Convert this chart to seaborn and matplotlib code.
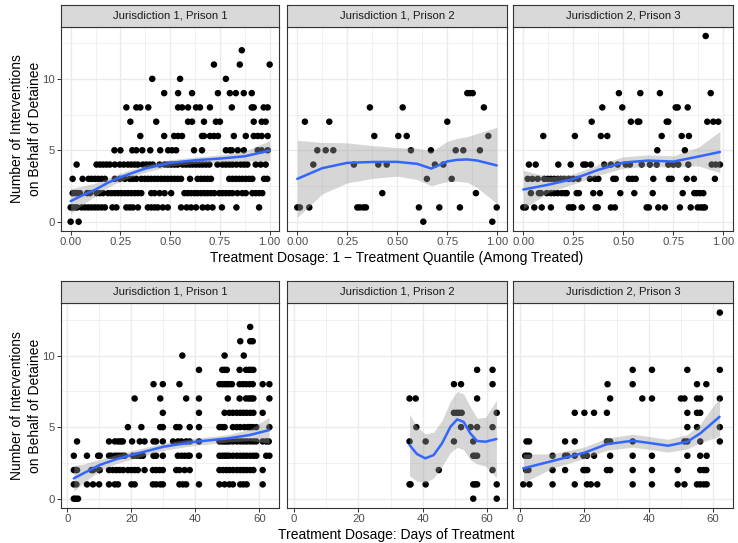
import numpy as np
import pandas as pd
import matplotlib
matplotlib.use("Agg")
import matplotlib.pyplot as plt
import seaborn as sns

# ---------------- data ----------------
STRIPS = ["Jurisdiction 1, Prison 1", "Jurisdiction 1, Prison 2", "Jurisdiction 2, Prison 3"]
XLAB_TOP = "Treatment Dosage: 1 \u2212 Treatment Quantile (Among Treated)"
XLAB_BOT = "Treatment Dosage: Days of Treatment"
YLAB = "Number of Interventions\non Behalf of Detainee"

# Top row: count of interventions -> quantile dosage values
Q_J1P1 = {
    12: [0.86],
    11: [0.72, 0.85, 1.00],
    10: [0.41, 0.55, 0.78],
    9: [0.47, 0.54, 0.61, 0.74, 0.80, 0.83, 0.87, 0.91],
    8: [0.28, 0.33, 0.35, 0.39, 0.54, 0.56, 0.59, 0.63, 0.65, 0.70, 0.81, 0.91, 0.92, 0.97, 0.99],
    7: [0.30, 0.43, 0.59, 0.61, 0.67, 0.73, 0.75, 0.92, 0.96, 0.98],
    6: [0.35, 0.47, 0.52, 0.54, 0.56, 0.66, 0.67, 0.70, 0.72, 0.74, 0.82, 0.88, 0.92, 0.94, 0.96, 0.99],
    5: [0.22, 0.25, 0.31, 0.33, 0.36, 0.40, 0.45, 0.49, 0.51, 0.53, 0.62, 0.66, 0.78, 0.80, 0.81,
        0.84, 0.87, 0.94, 0.96, 0.99],
    4: [0.03, 0.13, 0.147, 0.163, 0.18, 0.197, 0.222, 0.247, 0.267, 0.288, 0.305, 0.322, 0.338,
        0.363, 0.38, 0.397, 0.413, 0.447, 0.472, 0.488, 0.505, 0.522, 0.538, 0.563, 0.58, 0.597,
        0.613, 0.63, 0.647, 0.663, 0.68, 0.697, 0.738, 0.763, 0.78, 0.797, 0.813, 0.833, 0.855,
        0.872, 0.888, 0.93, 0.955, 0.98],
    3: [0.01, 0.06, 0.09, 0.105, 0.122, 0.138, 0.155, 0.172, 0.222, 0.247, 0.272, 0.297, 0.313,
        0.33, 0.355, 0.372, 0.388, 0.405, 0.422, 0.438, 0.455, 0.472, 0.488, 0.505, 0.522, 0.538,
        0.555, 0.60, 0.638, 0.655, 0.672, 0.688, 0.705, 0.797, 0.813, 0.83, 0.847, 0.863, 0.88,
        0.897, 0.913, 0.972, 0.988],
    2: [0.01, 0.022, 0.033, 0.047, 0.083, 0.097, 0.13, 0.147, 0.163, 0.188, 0.205, 0.222, 0.238,
        0.255, 0.272, 0.288, 0.305, 0.322, 0.338, 0.355, 0.405, 0.422, 0.447, 0.472, 0.505, 0.572,
        0.588, 0.605, 0.622, 0.638, 0.655, 0.672, 0.688, 0.705, 0.722, 0.747, 0.763, 0.78, 0.797,
        0.813, 0.838, 0.863, 0.88, 0.913, 0.93, 0.947, 0.963],
    1: [0.00, 0.01, 0.022, 0.033, 0.055, 0.072, 0.088, 0.105, 0.122, 0.138, 0.155, 0.172, 0.21,
        0.23, 0.28, 0.297, 0.313, 0.338, 0.388, 0.405, 0.422, 0.438, 0.463, 0.488, 0.555, 0.583,
        0.605, 0.63, 0.663, 0.688, 0.713, 0.76, 0.833, 0.947],
    0: [0.00, 0.04],
}
Q_J1P2 = {
    9: [0.85, 0.863, 0.877],
    8: [0.363, 0.527, 0.933],
    7: [0.038, 0.16, 0.75],
    6: [0.385, 0.505, 0.547, 0.955],
    5: [0.10, 0.142, 0.18, 0.568, 0.668, 0.792, 0.83, 0.913],
    4: [0.08, 0.283, 0.405, 0.447, 0.688, 0.73],
    3: [0.648, 0.772],
    2: [0.425, 0.893],
    1: [0.0, 0.013, 0.06, 0.30, 0.313, 0.33, 0.343, 0.608, 0.71, 0.813, 0.997],
    0: [0.63, 0.975],
}
Q_J2P3 = {
    13: [0.912],
    9: [0.478, 0.585, 0.683, 0.937],
    8: [0.395, 0.495, 0.762, 0.772, 0.822],
    7: [0.342, 0.538, 0.572, 0.58, 0.717, 0.725, 0.92, 0.95, 0.975],
    6: [0.10, 0.258, 0.388, 0.42, 0.692, 0.792, 0.828],
    5: [0.67, 0.808],
    4: [0.028, 0.062, 0.175, 0.237, 0.30, 0.312, 0.338, 0.405, 0.438, 0.472, 0.512, 0.533, 0.592,
        0.633, 0.667, 0.725, 0.75, 0.775, 0.825, 0.942, 0.962, 0.983],
    3: [0.022, 0.045, 0.072, 0.105, 0.122, 0.138, 0.155, 0.172, 0.188, 0.205, 0.228, 0.25, 0.275,
        0.333, 0.358, 0.375, 0.45, 0.462, 0.528, 0.545, 0.562, 0.65, 0.728, 0.742, 0.817, 0.853,
        0.958],
    2: [0.038, 0.078, 0.088, 0.117, 0.138, 0.155, 0.172, 0.192, 0.208, 0.217, 0.267, 0.278, 0.35,
        0.383, 0.485, 0.555, 0.647, 0.797, 0.855, 0.867, 0.883, 0.90],
    1: [0.0, 0.012, 0.055, 0.092, 0.138, 0.228, 0.242, 0.25, 0.292, 0.362, 0.372, 0.438, 0.458,
        0.617, 0.628, 0.675, 0.708, 0.783, 0.837, 0.872, 0.888, 0.90, 0.908],
}

# Bottom row: count of interventions -> days of treatment
D_J1P1 = {
    12: [57.1],
    11: [54.0, 57.1, 57.9],
    10: [35.9, 49.1, 55.1],
    9: [41.1, 48.4, 49.1, 49.8, 53.8, 55.8, 56.7, 57.4, 58.1],
    8: [26.9, 29.8, 35.0, 47.5, 48.4, 49.1, 49.8, 50.6, 51.4, 53.8, 54.8, 55.8, 56.9, 57.9, 61.0, 63.1],
    7: [21.0, 29.0, 37.1, 41.1, 50.1, 53.8, 55.8, 56.7, 57.4, 58.1, 63.1],
    6: [29.8, 41.1, 49.1, 50.6, 51.7, 52.9, 54.0, 55.0, 56.0, 57.1, 58.1, 61.0],
    5: [18.9, 23.1, 29.0, 29.8, 34.0, 35.0, 38.2, 41.1, 47.5, 48.4, 49.1, 51.7, 52.9, 54.0, 55.3,
        56.4, 57.1, 57.9, 59.0, 63.1],
    4: [3.0, 13.0, 14.8, 15.8, 16.6, 17.3, 20.2, 22.6, 24.1, 26.9, 27.7, 29.8, 33.0, 34.5, 35.6,
        37.1, 38.2, 41.1, 47.5, 48.4, 49.1, 49.8, 50.6, 51.7, 52.9, 54.0, 55.0, 56.0, 57.1, 58.1,
        59.0, 61.0, 62.1, 62.9],
    3: [2.0, 6.1, 9.6, 10.1, 13.0, 13.7, 14.8, 15.5, 16.3, 17.2, 17.9, 20.5, 21.5, 22.6, 23.6,
        26.9, 27.7, 29.8, 34.5, 35.6, 36.6, 37.6, 38.2, 41.1, 47.5, 48.4, 49.1, 49.8, 50.6, 51.7,
        52.9, 54.0, 55.0, 56.0, 57.1, 58.1, 59.0, 62.1, 63.1],
    2: [2.0, 2.6, 3.0, 7.5, 8.0, 9.9, 10.1, 13.0, 14.2, 15.3, 16.3, 17.4, 18.9, 20.0, 21.0, 22.0,
        24.1, 26.7, 27.7, 28.8, 29.8, 34.0, 35.0, 36.6, 38.2, 47.5, 48.6, 49.6, 50.6, 51.7, 52.9,
        54.0, 55.0, 56.0, 57.1, 58.1, 61.0],
    1: [2.0, 2.8, 6.1, 8.0, 9.9, 13.0, 14.8, 15.8, 20.0, 21.0, 26.7, 27.7, 29.0, 29.8, 35.0, 36.1,
        37.1, 41.1, 47.5, 49.1, 50.6, 51.7, 54.0, 55.0, 56.0, 61.0],
    0: [2.0, 2.6, 3.3],
}
D_J1P2 = {
    9: [56.9, 61.7],
    8: [49.7, 51.9, 61.7],
    7: [35.9, 37.8, 56.9],
    6: [49.7, 50.6, 51.3, 52.1, 63.0],
    5: [38.0, 51.9, 54.9, 56.9, 61.7],
    4: [35.9, 40.9, 49.7, 55.7],
    3: [55.7, 56.2, 56.9],
    2: [45.0, 61.7],
    1: [35.9, 36.2, 40.9, 55.7, 56.2, 56.9, 63.0],
    0: [55.7, 63.0],
}
D_J2P3 = {
    13: [62.1],
    9: [35.0, 41.0, 52.0, 62.1],
    8: [27.2, 35.0, 55.0, 57.9],
    7: [28.0, 38.0, 41.0, 50.0, 51.1, 55.0, 56.0, 62.1],
    6: [17.0, 20.0, 23.0, 27.0, 52.0, 55.0, 56.0],
    5: [52.0, 55.0, 62.1],
    4: [2.0, 2.8, 14.0, 17.0, 27.0, 28.0, 35.0, 51.1, 52.0, 56.0, 62.1],
    3: [1.6, 2.1, 2.8, 10.1, 14.0, 14.7, 17.0, 19.7, 20.8, 23.0, 28.0, 35.0, 41.0, 52.0, 56.0, 58.0],
    2: [1.9, 2.6, 10.1, 14.0, 19.7, 20.2, 20.9, 27.0, 28.0, 35.0, 41.0, 49.0, 56.0, 57.1, 57.9],
    1: [1.0, 2.9, 10.1, 17.0, 20.8, 22.0, 24.0, 35.0, 41.0, 49.0, 51.1, 55.0, 56.0, 57.1, 58.0],
}

# Smoothed (loess) fits: x, fit, half-width of 95% band
SQ1_X = [0.0, 0.06, 0.125, 0.19, 0.25, 0.375, 0.5, 0.625, 0.75, 0.875, 1.0]
SQ1_Y = [1.44, 1.85, 2.25, 2.75, 3.12, 3.72, 4.12, 4.30, 4.42, 4.58, 4.98]
SQ1_E = [0.85, 0.65, 0.45, 0.32, 0.28, 0.25, 0.22, 0.22, 0.25, 0.35, 0.70]

SQ2_X = [0.0, 0.125, 0.25, 0.375, 0.5, 0.6, 0.67, 0.75, 0.8, 0.85, 0.9, 0.997]
SQ2_Y = [3.0, 3.75, 4.12, 4.18, 4.19, 4.05, 3.72, 4.22, 4.33, 4.36, 4.28, 3.94]
SQ2_E = [2.7, 1.8, 1.4, 1.15, 1.0, 1.1, 1.2, 1.4, 1.5, 1.6, 1.9, 2.66]

SQ3_X = [0.0, 0.125, 0.25, 0.375, 0.5, 0.625, 0.75, 0.875, 0.983]
SQ3_Y = [2.25, 2.59, 2.99, 3.63, 4.14, 4.28, 4.21, 4.56, 4.88]
SQ3_E = [1.35, 0.55, 0.35, 0.38, 0.40, 0.40, 0.40, 0.65, 1.45]

SD1_X = [2.0, 5.0, 10.0, 15.0, 20.0, 30.0, 40.0, 50.0, 57.0, 63.0]
SD1_Y = [1.42, 1.77, 2.35, 2.74, 3.05, 3.63, 3.98, 4.21, 4.45, 4.79]
SD1_E = [0.90, 0.65, 0.40, 0.32, 0.30, 0.25, 0.25, 0.25, 0.40, 0.90]

SD2_X = [35.9, 38.2, 40.8, 43.4, 46.0, 48.6, 50.7, 52.7, 54.8, 56.9, 59.5, 62.9]
SD2_Y = [3.75, 3.12, 2.82, 3.05, 3.87, 5.02, 5.54, 5.37, 4.56, 4.03, 3.98, 4.17]
SD2_E = [2.15, 1.9, 1.7, 1.6, 1.6, 1.8, 1.95, 1.95, 1.85, 1.6, 1.7, 2.7]

SD3_X = [1.0, 10.0, 20.0, 27.0, 35.0, 40.0, 46.0, 52.0, 56.0, 62.0]
SD3_Y = [2.12, 2.63, 3.21, 3.81, 4.05, 3.90, 3.70, 3.98, 4.56, 5.72]
SD3_E = [1.00, 0.50, 0.40, 0.42, 0.45, 0.45, 0.45, 0.50, 0.65, 1.35]

Y_TICKS = [0, 5, 10]
Q_TICKS = [0.0, 0.25, 0.5, 0.75, 1.0]
Q_TICKLABELS = ["0.00", "0.25", "0.50", "0.75", "1.00"]
D_TICKS = [0, 20, 40, 60]


def to_frame(d):
    rows = [(x, y) for y, xs in d.items() for x in xs]
    return pd.DataFrame(rows, columns=["dose", "n"])


# ---------------- style ----------------
sns.set_theme(style="white")
plt.rcParams['font.family'] = ['Liberation Sans', 'DejaVu Sans']

W, H = 738, 543
fig = plt.figure(figsize=(W / 100, H / 100), dpi=100)

COLS = [(60.7, 279.0), (287.3, 506.7), (513.3, 732.7)]
ROWS = [((26.7, 231.0), (4.7, 26.7)), ((303.3, 508.0), (280.7, 303.3))]
GRID = "#EBEBEB"
BORDER = "#333333"


def add_axes(x0, x1, y0, y1):
    return fig.add_axes([x0 / W, 1 - y1 / H, (x1 - x0) / W, (y1 - y0) / H])


panels = [
    [(Q_J1P1, SQ1_X, SQ1_Y, SQ1_E), (Q_J1P2, SQ2_X, SQ2_Y, SQ2_E), (Q_J2P3, SQ3_X, SQ3_Y, SQ3_E)],
    [(D_J1P1, SD1_X, SD1_Y, SD1_E), (D_J1P2, SD2_X, SD2_Y, SD2_E), (D_J2P3, SD3_X, SD3_Y, SD3_E)],
]

for r, ((py0, py1), (sy0, sy1)) in enumerate(ROWS):
    for c, (px0, px1) in enumerate(COLS):
        pts, sx, sy, se = panels[r][c]
        ax = add_axes(px0, px1, py0, py1)
        ax.set_facecolor("white")
        df = to_frame(pts)
        sns.scatterplot(data=df, x="dose", y="n", ax=ax, color="black", s=22,
                        edgecolor="none", linewidth=0, zorder=3)
        sx = np.asarray(sx); sy = np.asarray(sy); se = np.asarray(se)
        ax.fill_between(sx, sy - se, sy + se, color="#999999", alpha=0.4,
                        linewidth=0, zorder=4)
        sns.lineplot(x=sx, y=sy, ax=ax, color="#3366FF", linewidth=1.8,
                     sort=False, estimator=None, zorder=5)
        ax.set_ylim(-0.65, 13.65)
        if r == 0:
            ax.set_xlim(-0.05, 1.047)
            ax.set_xticks(Q_TICKS)
            ax.set_xticklabels(Q_TICKLABELS)
            ax.set_xticks([0.125, 0.375, 0.625, 0.875], minor=True)
        else:
            ax.set_xlim(-2.1, 66.1)
            ax.set_xticks(D_TICKS)
            ax.set_xticks([10, 30, 50], minor=True)
        ax.set_yticks(Y_TICKS)
        ax.set_yticks([2.5, 7.5, 12.5], minor=True)
        ax.grid(True, which="major", color=GRID, linewidth=1.0, zorder=0)
        ax.grid(True, which="minor", color=GRID, linewidth=0.5, zorder=0)
        ax.set_axisbelow(True)
        ax.set_xlabel(""); ax.set_ylabel("")
        ax.tick_params(axis="both", which="major", length=3, width=0.7, color=BORDER,
                       labelsize=8.2, labelcolor="#4D4D4D", pad=1.5, direction="out")
        ax.tick_params(axis="both", which="minor", length=0)
        ax.tick_params(axis="x", bottom=True)
        if c == 0:
            ax.tick_params(axis="y", left=True)
        else:
            ax.tick_params(axis="y", left=False, labelleft=False)
        for sp in ax.spines.values():
            sp.set_color(BORDER)
            sp.set_linewidth(0.8)
            sp.set_zorder(6)
        # facet strip
        sax = add_axes(px0, px1, sy0, sy1)
        sax.set_facecolor("#D9D9D9")
        sax.set_xticks([]); sax.set_yticks([])
        for sp in sax.spines.values():
            sp.set_color(BORDER)
            sp.set_linewidth(0.8)
        sax.text(0.5, 0.5, STRIPS[c], transform=sax.transAxes, ha="center", va="center",
                 fontsize=8.2, color="#1A1A1A")

# axis titles
cx = (COLS[0][0] + COLS[2][1]) / 2 / W
fig.text(cx, 1 - 258 / H, XLAB_TOP, ha="center", va="center", fontsize=10, color="black")
fig.text(cx, 1 - 535 / H, XLAB_BOT, ha="center", va="center", fontsize=10, color="black")
for (py0, py1), _ in ROWS:
    fig.text(26 / W, 1 - (py0 + py1) / 2 / H, YLAB, rotation=90, ha="center", va="center",
             fontsize=10, color="black", linespacing=1.3, multialignment="center")

fig.savefig("out.png", dpi=100, facecolor="white")
